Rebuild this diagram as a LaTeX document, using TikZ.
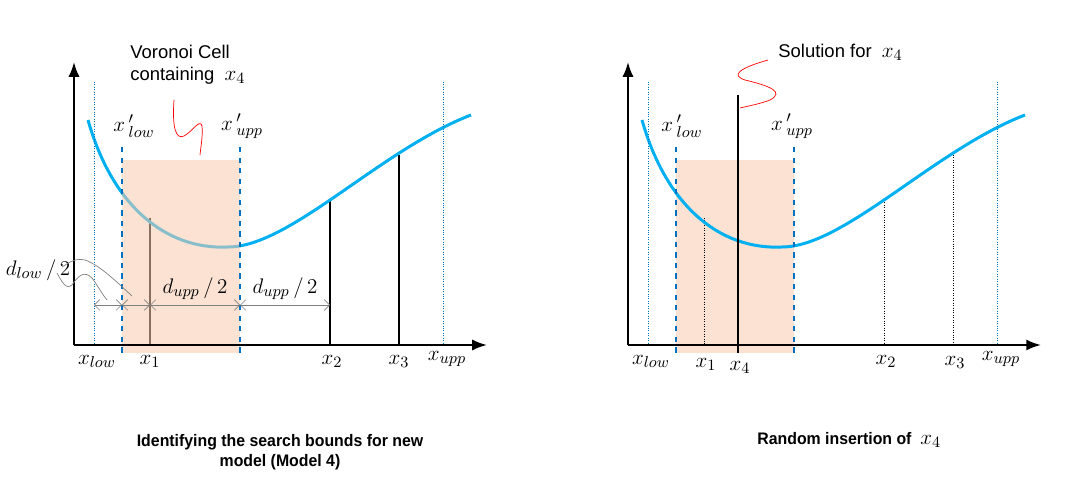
\documentclass[tikz,border=0pt]{standalone}
\usepackage{fontspec}
\setmainfont{Liberation Sans}
\newfontfamily\capfont{Liberation Sans}[FakeStretch=0.95]
\usepackage{tikz}
\usetikzlibrary{positioning,arrows.meta}
\definecolor{curveblue}{RGB}{0,176,240}
\definecolor{boundblue}{RGB}{0,112,192}
\definecolor{cellpeach}{RGB}{248,203,173}
\newcommand{\bigx}{{\fontsize{13}{13}\selectfont$x_4$}}
\begin{document}
\begin{tikzpicture}[x=0.02cm, y=-0.02cm, axis/.style={-Latex, line width=1.2pt}, curve/.style={curveblue, line width=1.7pt}, bound/.style={boundblue, dashed, line width=1pt}, limit/.style={boundblue, densely dotted, thin}, sample/.style={black, line width=1.1pt}, guess/.style={black, densely dotted, thin}, cell/.style={fill=cellpeach, fill opacity=0.55}, dim/.style={gray, thin, {Straight Barb[length=3pt]}-{Straight Barb[length=3pt]}}, lbl/.style={font=\fontsize{13}{15}\selectfont, inner sep=1pt, text=black}, note/.style={font=\fontsize{10.5}{12.5}\selectfont, align=left}, squig/.style={red, thin}, caption/.style={font=\capfont\bfseries\fontsize{9.5}{11.5}\selectfont, align=center}]
\useasboundingbox (0,0) rectangle (1065,479);
% left panel
\coordinate (lo) at (74,345);
\coordinate (ly) at (74,62);
\coordinate (lx) at (487,345);
\draw[sample] (150,218) coordinate (l1t) -- (150,345) coordinate (l1b);
\draw[sample] (330,200) coordinate (l2t) -- (330,345) coordinate (l2b);
\draw[sample] (399,155) coordinate (l3t) -- (399,345) coordinate (l3b);
\draw[curve] (88,120) .. controls (112,205) and (165,250) .. (228,247) .. controls (290,247) and (380,150) .. (471,115);
\fill[cell] (122,160) rectangle (240,353);
\draw[axis] (lo) -- (ly);
\draw[axis] (lo) -- (lx);
\draw[limit] (94,82) coordinate (llowt) -- (94,345) coordinate (llowb);
\draw[limit] (443,82) coordinate (luppt) -- (443,345) coordinate (luppb);
\draw[bound] (122,147) coordinate (lplt) -- (122,353) coordinate (lplb);
\draw[bound] (240,147) coordinate (lput) -- (240,353) coordinate (lpub);
\coordinate (d0) at (94,305);
\coordinate (d1) at (122,305);
\coordinate (d2) at (150,305);
\coordinate (d3) at (240,305);
\coordinate (d4) at (330,305);
\draw[dim] (d0) -- (d1);
\draw[dim] (d1) -- (d2);
\draw[dim] (d2) -- node[lbl, above=2pt]{$d_{upp}\,/\,2$} (d3);
\draw[dim] (d3) -- node[lbl, above=2pt]{$d_{upp}\,/\,2$} (d4);
\node[lbl] (dlow) at (38,270) {$d_{low}\,/\,2$};
\draw[gray, thin] (62,267) .. controls (70,262) and (75,258) .. (85,260) .. controls (100,265) and (120,285) .. (132,296);
\draw[gray, thin] (57,273) .. controls (62,282) and (66,290) .. (72,285) .. controls (78,276) and (84,270) .. (92,278) .. controls (98,286) and (102,294) .. (107,300);
\node[lbl, anchor=north] (tlow) at (97,353) {$x_{low}$};
\node[lbl, anchor=north] (t1) at (150,353) {$x_1$};
\node[lbl, anchor=north] (t2) at (332,353) {$x_2$};
\node[lbl, anchor=north] (t3) at (399,353) {$x_3$};
\node[lbl, anchor=north] (tupp) at (447,349) {$x_{upp}$};
\node[lbl] (tplow) at (134,126) {$x\,'_{low}$};
\node[lbl] (tpupp) at (242,126) {$x\,'_{upp}$};
\node[note, anchor=north west, inner sep=0pt] (vcell) at (130,45) {Voronoi Cell\\containing \ \bigx};
\draw[squig] (174,100) .. controls (172,128) and (176,140) .. (184,136) .. controls (192,132) and (200,118) .. (202,126) .. controls (203,135) and (201,145) .. (200,155);
\node[caption] (lcap) at (280,452) {Identifying the search bounds for new\\model (Model 4)};
% right panel
\begin{scope}[shift={(554,0)}]
\coordinate (ro) at (74,345);
\coordinate (ry) at (74,62);
\coordinate (rx) at (487,345);
\fill[cellpeach, fill opacity=0.55] (122,160) rectangle (240,353);
\draw[axis] (ro) -- (ry);
\draw[axis] (ro) -- (rx);
\draw[guess] (150,218) coordinate (r1t) -- (150,345) coordinate (r1b);
\draw[guess] (330,200) coordinate (r2t) -- (330,345) coordinate (r2b);
\draw[guess] (399,155) coordinate (r3t) -- (399,345) coordinate (r3b);
\draw[curve] (88,120) .. controls (112,205) and (165,250) .. (228,247) .. controls (290,247) and (380,150) .. (471,115);
\draw[sample] (184,95) coordinate (r4t) -- (184,353) coordinate (r4b);
\draw[limit] (94,82) coordinate (rlowt) -- (94,345) coordinate (rlowb);
\draw[limit] (443,82) coordinate (ruppt) -- (443,345) coordinate (ruppb);
\draw[bound] (122,147) coordinate (rplt) -- (122,353) coordinate (rplb);
\draw[bound] (240,147) coordinate (rput) -- (240,353) coordinate (rpub);
\node[lbl, anchor=north] (slow) at (97,353) {$x_{low}$};
\node[lbl, anchor=north] (s1) at (152,356) {$x_1$};
\node[lbl, anchor=north] (s4) at (186,359) {$x_4$};
\node[lbl, anchor=north] (s2) at (332,353) {$x_2$};
\node[lbl, anchor=north] (s3) at (401,354) {$x_3$};
\node[lbl, anchor=north] (supp) at (447,349) {$x_{upp}$};
\node[lbl] (splow) at (128,126) {$x\,'_{low}$};
\node[lbl] (spupp) at (238,126) {$x\,'_{upp}$};
\node[note, anchor=west, inner sep=0pt] (sol) at (224,52) {Solution for \ \bigx};
\draw[squig] (214,60) .. controls (186,68) and (176,75) .. (191,80) .. controls (216,86) and (231,92) .. (216,100) .. controls (206,104) and (194,106) .. (186,108);
\node[caption, anchor=west, inner sep=0pt] (rcap) at (203,440) {Random insertion of \ \bigx};
\end{scope}
\end{tikzpicture}
\end{document}
